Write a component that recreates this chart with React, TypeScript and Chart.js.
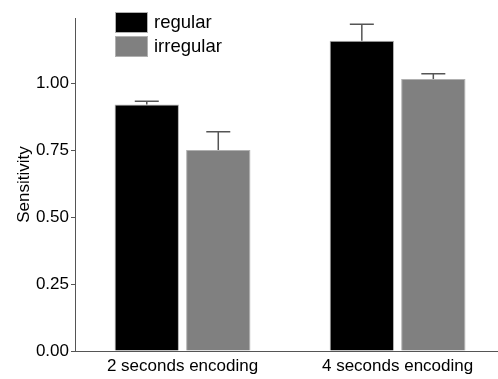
import React, { useEffect, useRef } from "react";
import { Chart, registerables } from "chart.js";

Chart.register(...registerables);

const categories = ["2 seconds encoding", "4 seconds encoding"];
const seriesNames = ["regular", "irregular"];
const regular = [0.92, 1.158];
const irregular = [0.75, 1.015];
const regularErr = [0.012, 0.062];
const irregularErr = [0.068, 0.02];
const yTicks = [0, 0.25, 0.5, 0.75, 1.0];

const FONT = "'Liberation Sans', Arial, sans-serif";

const errorBarPlugin = {
  id: "errorBars",
  afterDatasetsDraw(chart: any) {
    const ctx = chart.ctx;
    const yScale = chart.scales.y;
    const errs = [regularErr, irregularErr];
    chart.data.datasets.forEach((ds: any, di: number) => {
      const meta = chart.getDatasetMeta(di);
      meta.data.forEach((el: any, i: number) => {
        const v = ds.data[i].y;
        const top = yScale.getPixelForValue(v + errs[di][i]);
        ctx.save();
        ctx.strokeStyle = "#555";
        ctx.lineWidth = 1.5;
        ctx.beginPath();
        ctx.moveTo(el.x, el.y);
        ctx.lineTo(el.x, top);
        ctx.moveTo(el.x - 12, top);
        ctx.lineTo(el.x + 12, top);
        ctx.stroke();
        ctx.restore();
      });
    });
  },
};

const legendPlugin = {
  id: "customLegend",
  afterDraw(chart: any) {
    const ctx = chart.ctx;
    const left = chart.chartArea.left + 40;
    const colors = ["#000000", "#808080"];
    ctx.save();
    seriesNames.forEach((name, i) => {
      const y = 12 + i * 24;
      ctx.fillStyle = colors[i];
      ctx.fillRect(left, y, 33, 21);
      ctx.strokeStyle = "#b0b0b0";
      ctx.lineWidth = 1;
      ctx.strokeRect(left + 0.5, y + 0.5, 32, 20);
      ctx.fillStyle = "#000";
      ctx.font = `18.5px ${FONT}`;
      ctx.textBaseline = "middle";
      ctx.textAlign = "left";
      ctx.fillText(name, left + 39, y + 10.5);
    });
    ctx.restore();
  },
};

export default function App() {
  const ref = useRef<HTMLCanvasElement>(null);
  useEffect(() => {
    if (!ref.current) return;
    const chart = new Chart(ref.current, {
      type: "bar",
      data: {
        datasets: [
          {
            label: seriesNames[0],
            data: regular.map((v, i) => ({ x: i, y: v })),
            backgroundColor: "#000000",
            borderColor: "#b0b0b0",
            borderWidth: 1,
          },
          {
            label: seriesNames[1],
            data: irregular.map((v, i) => ({ x: i, y: v })),
            backgroundColor: "#808080",
            borderColor: "#b0b0b0",
            borderWidth: 1,
          },
        ],
      },
      options: {
        animation: false,
        responsive: true,
        maintainAspectRatio: false,
        layout: { padding: { top: 18, right: 0, left: 0, bottom: 0 } },
        datasets: {
          bar: { categoryPercentage: 0.665, barPercentage: 0.9 },
        },
        plugins: {
          legend: { display: false },
          tooltip: { enabled: false },
        },
        scales: {
          x: {
            type: "linear",
            offset: false,
            min: -0.5,
            max: 1.467,
            afterBuildTicks: (scale: any) => {
              scale.ticks = categories.map((_, i) => ({ value: i }));
            },
            afterFit: (scale: any) => {
              scale.height = 28;
            },
            grid: { display: true, offset: false, drawOnChartArea: false, drawTicks: false },
            border: { color: "#555", width: 1 },
            ticks: {
              padding: 5,
              color: "#000",
              font: { family: FONT, size: 17 },
              callback: (v: any) => categories[Math.round(Number(v))] ?? "",
            },
          },
          y: {
            min: 0,
            max: 1.243,
            afterBuildTicks: (scale: any) => {
              scale.ticks = yTicks.map((v) => ({ value: v }));
            },
            afterFit: (scale: any) => {
              scale.width = 75;
            },
            grid: {
              drawOnChartArea: false,
              drawTicks: true,
              tickLength: 4,
              color: "#555",
            },
            border: { color: "#555", width: 1 },
            ticks: {
              padding: 2,
              color: "#000",
              font: { family: FONT, size: 17 },
              callback: (v: any) => Number(v).toFixed(2),
            },
            title: {
              display: true,
              text: "Sensitivity",
              color: "#000",
              font: { family: FONT, size: 17 },
              padding: { top: 14, bottom: 0 },
            },
          },
        },
      },
      plugins: [errorBarPlugin, legendPlugin],
    } as any);
    return () => chart.destroy();
  }, []);
  return (
    <div style={{ position: "fixed", left: 0, top: 0, width: 498, height: 379, background: "#fff" }}>
      <canvas ref={ref} />
    </div>
  );
}
